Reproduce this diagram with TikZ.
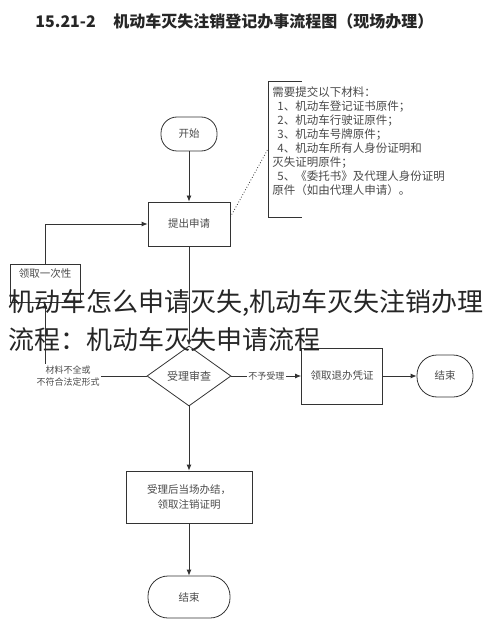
\documentclass[tikz,border=0pt]{standalone}
\usepackage{fontspec}
\setmainfont{Noto Sans CJK SC}
\usetikzlibrary{shapes.geometric,arrows.meta}
\definecolor{linegray}{HTML}{333333}
\definecolor{textgray}{HTML}{4a4a4a}

\begin{document}
\begin{tikzpicture}[x=1pt,y=-1pt,color=linegray,line width=0.8pt,
    >={Latex[length=6pt,width=5pt]},
    box/.style={draw, rectangle, text=textgray, align=center,
        font=\fontsize{10.5}{15}\selectfont},
    term/.style={box, rounded corners=16pt},
    lbl/.style={text=textgray, align=center, inner sep=1.5pt,
        font=\fontsize{9}{12}\selectfont}]
    \useasboundingbox (0,0) rectangle (490,620);

    \node[anchor=west, inner sep=0, text=black!85, font=\fontsize{16}{16}\selectfont\bfseries] (title) at (35,21)
        {15.21-2\hspace{1.1em}机动车灭失注销登记办事流程图（现场办理）};

    \node[term, minimum width=56pt, minimum height=34pt] (start) at (189,134) {开始};
    \node[box, minimum width=82pt, minimum height=44pt] (apply) at (189,224) {提出申请};
    \node[box, minimum width=70pt, text height=9pt, text depth=21pt, inner ysep=4pt] (leaflet) at (45,283) {领取一次性};
    \node[diamond, draw, aspect=1.4, minimum width=84pt, minimum height=60pt, inner sep=0,
        text=textgray, font=\fontsize{11}{11}\selectfont] (check) at (189,376) {受理审查};
    \node[lbl] (reason) at (68,376) {材料不全或\\不符合法定形式};
    \node[box, minimum width=81pt, minimum height=56pt] (refund) at (342,376) {领取退办凭证};
    \node[term, minimum width=56pt, minimum height=42pt, rounded corners=20pt] (endA) at (445,376) {结束};
    \node[box, minimum width=126pt, minimum height=52pt] (handle) at (189,497) {受理后当场办结，\\领取注销证明};
    \node[term, minimum width=82pt, minimum height=42pt, rounded corners=20pt] (endB) at (189,597) {结束};

    \node[anchor=west, align=left, inner xsep=4pt, inner ysep=0, text=textgray,
        font=\fontsize{11.5}{14}\selectfont] (notes) at (268,141)
        {需要提交以下材料：\\
         \hspace*{5pt}1、机动车登记证书原件；\\
         \hspace*{5pt}2、机动车行驶证原件；\\
         \hspace*{5pt}3、机动车号牌原件；\\
         \hspace*{5pt}4、机动车所有人身份证明和\\
         灭失证明原件；\\
         \hspace*{5pt}5、《委托书》及代理人身份证明\\
         原件（如由代理人申请）。};
    \draw ([xshift=34pt,yshift=5pt]notes.north west) -- ([yshift=5pt]notes.north west)
        -- ([yshift=-22pt]notes.south west) -- ([xshift=34pt,yshift=-22pt]notes.south west);
    \draw[dotted] ([yshift=7pt]apply.east) -- ([yshift=-8pt]notes.west);

    \draw[->] (start) -- (apply);
    \draw[->] (apply) -- (check);
    \draw[->] (check) -- (handle);
    \draw[->] (handle) -- (endB);
    \draw (check) -- (reason);
    \draw[->] (leaflet.south |- reason.north) -- (leaflet);
    \draw[->] (leaflet) |- (apply);
    \draw[->] (check) -- node[lbl, fill=white] {不予受理} (refund);
    \draw[->] (refund) -- (endA);

    \node[anchor=west, align=left, inner sep=0, text=black!85,
        font=\fontsize{26}{38}\selectfont] (mark) at (8,321)
        {机动车怎么申请灭失,机动车灭失注销办理\\流程：机动车灭失申请流程};
\end{tikzpicture}
\end{document}
